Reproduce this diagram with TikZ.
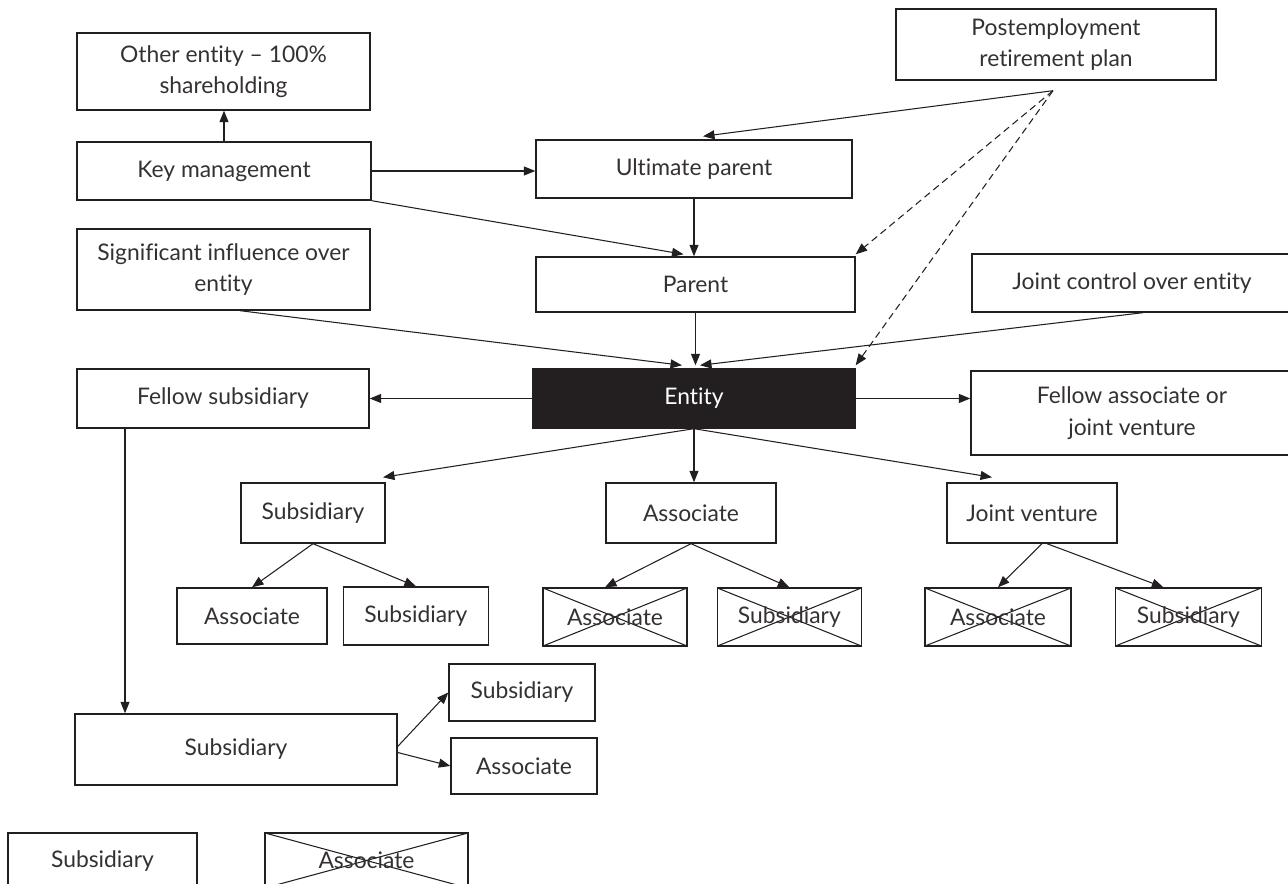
\documentclass[tikz,border=0pt]{standalone}
\usepackage{fontspec}
\setmainfont{Lato}[Ligatures=NoCommon]
\usetikzlibrary{positioning, arrows.meta, calc}
\definecolor{ink}{HTML}{231F20}
\tikzset{
    box/.style={draw=ink, line width=0.8pt, text=ink!92, align=center, inner sep=0pt, font=\fontsize{13}{18}\selectfont},
    crossbox/.style={box, path picture={
        \draw[ink, line width=0.6pt] (path picture bounding box.south west) -- (path picture bounding box.north east);
        \draw[ink, line width=0.6pt] (path picture bounding box.north west) -- (path picture bounding box.south east);
    }},
    entitybox/.style={box, fill=ink, text=white},
    rel/.style={draw=ink, line width=0.6pt, -{Triangle[length=2.3mm, width=1.8mm]}},
    weakrel/.style={rel, dash pattern=on 4pt off 2.5pt}
}
\begin{document}
\begin{tikzpicture}[x=0.02cm, y=-0.02cm]
      \useasboundingbox (0,0) rectangle (1288,884);

      % --- Upper left column ---
      \node (other) [box, minimum width=5.86cm, minimum height=1.54cm] at (223.5,71.5) {Other entity -- 100\%\\shareholding};
      \node (keyMgmt) [box, minimum width=5.88cm, minimum height=1.16cm] at (224,171) {Key management};
      \node (sigInfl) [box, minimum width=5.86cm, minimum height=1.62cm] at (223.5,269.5) {Significant influence over\\entity};
      \node (fellowSub) [box, minimum width=5.84cm, minimum height=1.18cm] at (223,398.5) {Fellow subsidiary};

      % --- Parents and entity ---
      \node (ultParent) [box, minimum width=6.32cm, minimum height=1.16cm] at (694,169) {Ultimate parent};
      \node (parent) [box, minimum width=6.38cm, minimum height=1.10cm] at (695.5,284.5) {Parent};
      \node (entity) [entitybox, minimum width=6.44cm, minimum height=1.18cm] at (694,398.5) {Entity};

      % --- Right column ---
      \node (postEmp) [box, minimum width=6.40cm, minimum height=1.42cm] at (1056,44.5) {Postemployment\\retirement plan};
      \node (jointCtrl) [box, minimum width=6.40cm, minimum height=1.16cm] at (1132,283) {Joint control over entity};
      \node (fellowAssoc) [box, minimum width=6.44cm, minimum height=1.68cm] at (1132,413) {Fellow associate or\\joint venture};
      \coordinate (peFoot) at ($(postEmp.south)+(-3,10)$);

      % --- Investees ---
      \node (sub) [box, minimum width=2.88cm, minimum height=1.20cm] at (313,513) {Subsidiary};
      \node (assoc) [box, minimum width=3.40cm, minimum height=1.20cm] at (691,513) {Associate};
      \node (jv) [box, minimum width=3.40cm, minimum height=1.20cm] at (1032,513) {Joint venture};

      \node (subAssoc) [box, minimum width=3.00cm, minimum height=1.12cm] at (252,616) {Associate};
      \node (subSub) [box, minimum width=2.90cm, minimum height=1.16cm, right=0.3cm of subAssoc] {Subsidiary};
      \node (assocAssoc) [crossbox, minimum width=2.88cm, minimum height=1.16cm] at (615,617) {Associate};
      \node (assocSub) [crossbox, minimum width=2.88cm, minimum height=1.16cm, right=0.58cm of assocAssoc] {Subsidiary};
      \node (jvAssoc) [crossbox, minimum width=2.92cm, minimum height=1.16cm] at (998,617) {Associate};
      \node (jvSub) [crossbox, minimum width=2.92cm, minimum height=1.16cm, right=0.86cm of jvAssoc] {Subsidiary};

      % --- Fellow subsidiary branch ---
      \node (fsSub) [box, minimum width=6.44cm, minimum height=1.42cm] at (236,749.5) {Subsidiary};
      \node (fsSubSub) [box, minimum width=2.92cm, minimum height=1.14cm] at (522,692.5) {Subsidiary};
      \node (fsSubAssoc) [box, minimum width=2.92cm, minimum height=1.12cm] at (524,766) {Associate};

      % --- Legend ---
      \node (legSub) [box, minimum width=3.78cm, minimum height=1.12cm] at (102.5,861) {Subsidiary};
      \node (legAssoc) [crossbox, minimum width=4.06cm, minimum height=1.10cm] at (366.5,860.5) {Associate};

      % --- Connectors ---
      \draw[rel] (keyMgmt.north) -- (keyMgmt.north |- other.south);
      \draw[rel] (keyMgmt.east) -- (keyMgmt.east -| ultParent.west);
      \draw[rel] (keyMgmt.south east) -- ([xshift=-0.24cm, yshift=0.04cm]parent.north);
      \draw[rel] (ultParent.south) -- (ultParent.south |- parent.north);
      \draw[rel] (peFoot) -- ([xshift=0.18cm, yshift=0.06cm]ultParent.north);
      \draw[weakrel] (peFoot) -- ([yshift=0.04cm]parent.north east);
      \draw[weakrel] (peFoot) -- ([yshift=0.06cm]entity.north east);

      \draw[rel] ([xshift=0.33cm]sigInfl.south) -- ([xshift=-0.24cm, yshift=0.06cm]entity.north);
      \draw[rel] (parent.south) -- ([yshift=0.06cm]parent.south |- entity.north);
      \draw[rel] ([xshift=0.22cm]jointCtrl.south) -- ([xshift=0.12cm, yshift=0.06cm]entity.north);

      \draw[rel] (entity.west) -- (fellowSub.east);
      \draw[rel] (entity.east) -- (entity.east -| fellowAssoc.west);
      \draw[rel] (entity.south) -- ([xshift=1.4cm, yshift=0.1cm]sub.north);
      \draw[rel] (entity.south) -- (entity.south |- assoc.north);
      \draw[rel] (entity.south) -- ([xshift=-0.8cm, yshift=0.1cm]jv.north);

      \draw[rel] (sub.south) -- (subAssoc.north);
      \draw[rel] (sub.south) -- (subSub.north);
      \draw[rel] (assoc.south) -- ([xshift=-0.2cm]assocAssoc.north);
      \draw[rel] (assoc.south) -- (assocSub.north);
      \draw[rel] ([xshift=0.2cm]jv.south) -- (jvAssoc.north);
      \draw[rel] ([xshift=0.3cm]jv.south) -- ([xshift=-0.5cm]jvSub.north);

      \draw[rel] ([xshift=-1.96cm]fellowSub.south) -- ([xshift=-1.96cm]fellowSub.south |- fsSub.north);
      \draw[rel] ([yshift=0.06cm]fsSub.east) -- (fsSubSub.west);
      \draw[rel] ([yshift=-0.06cm]fsSub.east) -- (fsSubAssoc.west);
\end{tikzpicture}
\end{document}
